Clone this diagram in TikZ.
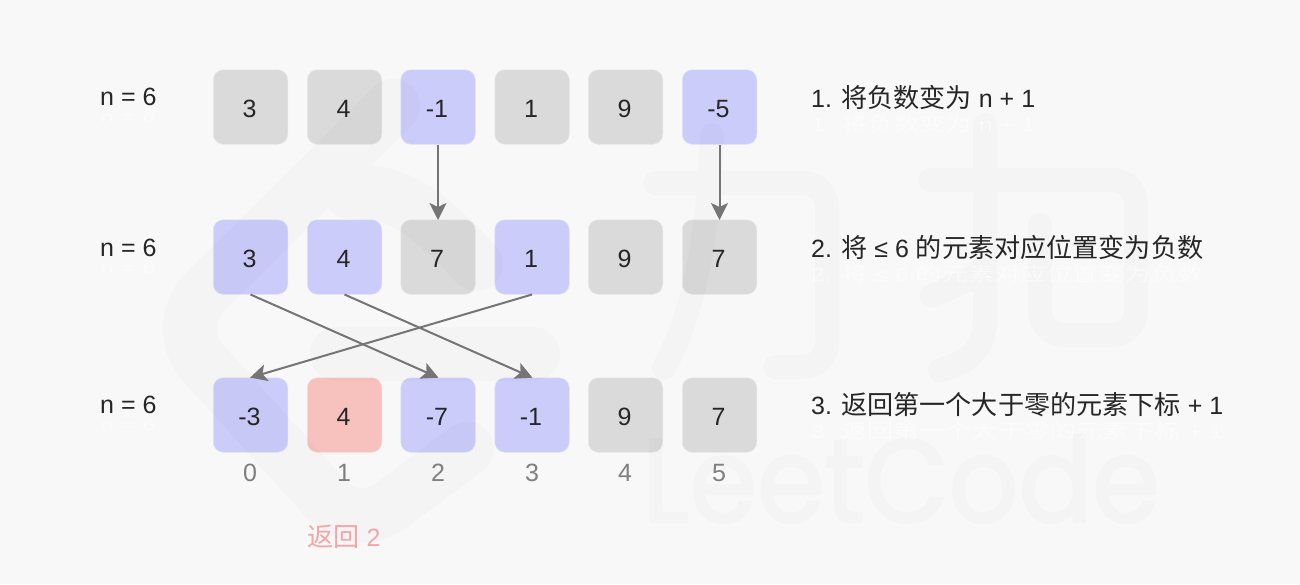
\documentclass[tikz,border=0pt]{standalone}
\usepackage{fontspec}
\setmainfont{Liberation Sans}
\newfontfamily\cjk[Scale=1.045]{Noto Sans CJK SC}
\newfontfamily\wmfont[FakeBold=2.2]{Poppins}
\usetikzlibrary{arrows.meta}
\newcommand{\fsz}{\fontsize{25}{30}\selectfont}
\definecolor{bgc}{HTML}{F8F8F8}
\definecolor{grayc}{HTML}{DADADA}
\definecolor{bluec}{HTML}{CCCCFB}
\definecolor{redc}{HTML}{F7C1BE}
\definecolor{ink}{HTML}{262626}
\definecolor{idx}{HTML}{7F7F7F}
\definecolor{ret}{HTML}{F4A5A5}
\definecolor{arr}{HTML}{757575}
\tikzset{
  cell/.style={minimum size=74.5pt,inner sep=0pt,rounded corners=10pt,text=ink,font=\fsz,text height=20pt,text depth=0pt},
  cg/.style={cell,fill=grayc,draw=grayc!50!bgc,line width=.5pt},
  cb/.style={cell,fill=bluec,draw=bluec!50!bgc,line width=.5pt},
  cr/.style={cell,fill=redc,draw=redc!50!bgc,line width=.5pt},
  lab/.style={text=ink,font=\fsz,inner sep=0pt,anchor=west},
  ghost/.style={text=white,font=\fsz,inner sep=0pt,anchor=west,opacity=.5},
  idxl/.style={text=idx,font=\fsz,inner sep=0pt},
  conn/.style={arr,line width=2pt,-{Stealth[length=17pt,width=17pt,inset=4pt]},shorten >=-.5pt},
  wmA/.style={line width=54pt,line cap=round,line join=round},
  wmB/.style={line width=24pt,line cap=round,line join=round,rounded corners=24pt},
}
\begin{document}
\begin{tikzpicture}[x=1pt,y=-1pt]
\fill[bgc,use as bounding box] (0,0) rectangle (1300,584);
% cells
\foreach \c/\x/\v/\s in {0/250.5/3/cg,1/344.5/4/cg,2/438/-1/cb,3/532/1/cg,4/625.5/9/cg,5/719.5/-5/cb}
  \node[\s] (a\c) at (\x,107) {\v\kern2pt};
\foreach \c/\x/\v/\s in {0/250.5/3/cb,1/344.5/4/cb,2/438/7/cg,3/532/1/cb,4/625.5/9/cg,5/719.5/7/cg}
  \node[\s] (b\c) at (\x,257) {\v\kern2pt};
\foreach \c/\x/\v/\s in {0/250.5/-3/cb,1/344.5/4/cr,2/438/-7/cb,3/532/-1/cb,4/625.5/9/cg,5/719.5/7/cg}
  \node[\s] (c\c) at (\x,415) {\v\kern2pt};
% watermark
\begin{scope}[transparency group,opacity=.016]
  \draw[wmA,black] (393,106) -- (205,292) .. controls (185,312) and (185,345) .. (205,365)
     -- (318,490) .. controls (345,525) and (375,520) .. (398,500) -- (467,449);
  \draw[wmA,black] (350,192) .. controls (395,190) and (420,205) .. (476,264);
  \draw[wmA,black] (337,354) -- (533,354);
  \draw[wmB,black] (655,183) -- (827,183) -- (827,367) -- (775,367);
  \draw[wmB,black,rounded corners=0pt] (712,135) .. controls (708,250) and (690,320) .. (664,368);
  \draw[wmB,black] (930,180) -- (1136,180) -- (1136,335) -- (1040,335) -- (1040,225);
  \draw[wmB,black,rounded corners=0pt] (985,125) -- (985,320) .. controls (985,350) and (965,365) .. (940,370);
  \draw[wmB,black,rounded corners=0pt] (932,296) -- (985,272);
  \node[inner sep=0pt,anchor=base west,text=black] (wm) at (642,522)
    {\scalebox{.925}[1]{\fontsize{118}{130}\selectfont\wmfont LeetCode}};
\end{scope}
% ghost text
\node[ghost] (g1) at (100,117) {\scalebox{1}[.6]{n = 6}};
\node[ghost] (g2) at (100,268) {\scalebox{1}[.6]{n = 6}};
\node[ghost] (g3) at (100,425) {\scalebox{1}[.6]{n = 6}};
\node[ghost] (g4) at (811,124) {\scalebox{1}[.75]{1. {\cjk 将负数变为} n + 1}};
\node[ghost] (g5) at (811,274) {\scalebox{1}[.75]{2. {\cjk 将} ≤ 6 {\cjk 的元素对应位置变为负数}}};
\node[ghost] (g6) at (811,431) {\scalebox{1}[.75]{3. {\cjk 返回第一个大于零的元素下标} + 1}};
% labels
\node[lab] (n1) at (100,97) {n = 6};
\node[lab] (n2) at (100,248) {n = 6};
\node[lab] (n3) at (100,405) {n = 6};
\node[lab] (t1) at (811,97) {1. {\cjk 将负数变为} n + 1};
\node[lab] (t2) at (811,248) {2. {\cjk 将} ≤ 6 {\cjk 的元素对应位置变为负数}};
\node[lab] (t3) at (811,405) {3. {\cjk 返回第一个大于零的元素下标} + 1};
\foreach \c/\x in {0/250,1/344,2/438,3/532,4/625,5/719}
  \node[idxl] (i\c) at (\x,473) {\c};
\node[inner sep=0pt,text=ret,font=\fsz] (ret) at (344,537) {{\cjk 返回} 2};
% connectors
\draw[conn] (a2.south) -- (b2.north);
\draw[conn] (a5.south) -- (b5.north);
\draw[conn] (b0.south) -- (c2.north);
\draw[conn] (b1.south) -- (c3.north);
\draw[conn] (b3.south) -- (c0.north);
\end{tikzpicture}
\end{document}
